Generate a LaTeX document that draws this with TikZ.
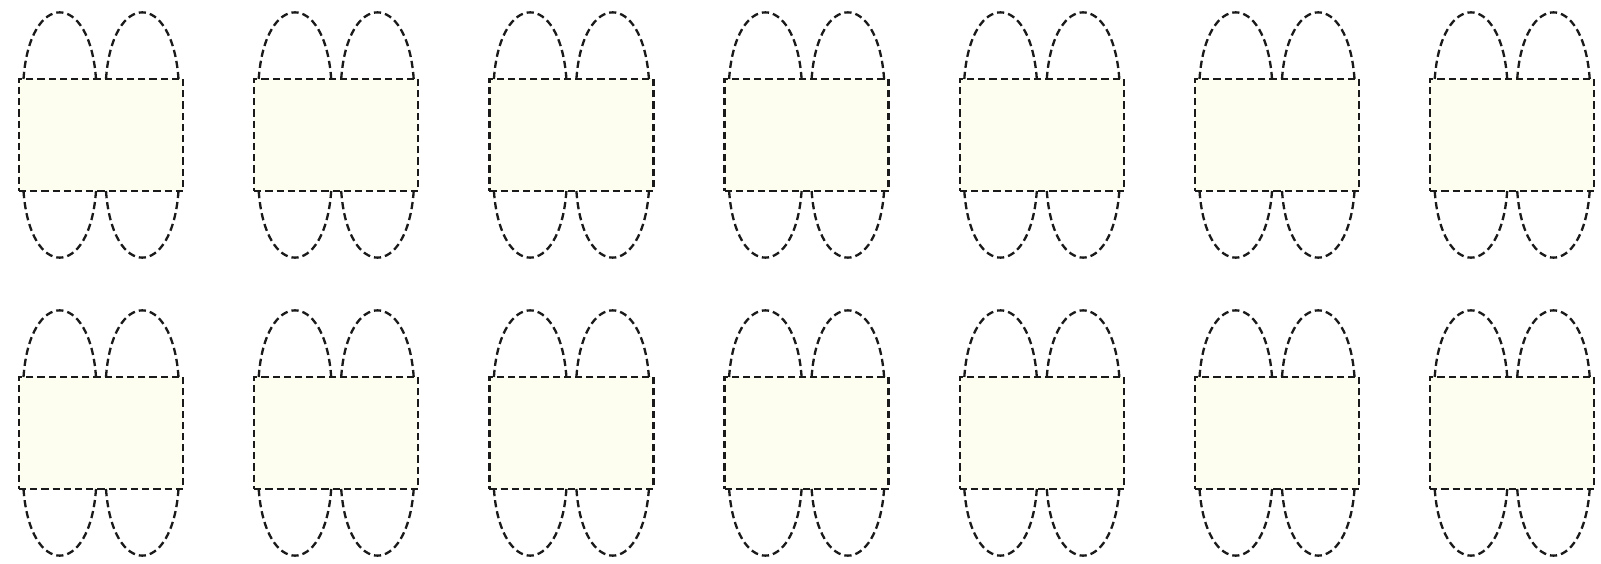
\documentclass[tikz,border=0pt]{standalone}
\usepackage{xcolor}
\usepackage{tikz}
\usetikzlibrary{positioning,calc}
\definecolor{slotcream}{HTML}{FEFEF0}
\definecolor{slotline}{HTML}{1A1A1A}

\begin{document}
\begin{tikzpicture}[x=0.25mm, y=0.25mm,
  slot/.style={rectangle, draw=slotline, fill=slotcream, minimum width=41mm,
    minimum height=28mm, outer sep=0pt, line width=0.58mm,
    dash pattern=on 1.8mm off 1mm},
  lobe/.style={draw=slotline, line width=0.58mm, dash pattern=on 1.8mm off 1mm,
    looseness=3.15}
]
\useasboundingbox (0,0) rectangle (1601,563);
\foreach \r/\y in {1/428, 2/130}{
  \foreach \c in {1,...,7}{
    \node[slot] (s\r\c) at ({101+235.2*(\c-1)}, \y) {};
    % two loops on top, two below
    \draw[lobe] ($(s\r\c.north)+(-77.5,0)$) to[out=86, in=94] ($(s\r\c.north)+(-5,0)$);
    \draw[lobe] ($(s\r\c.north)+(5,0)$) to[out=86, in=94] ($(s\r\c.north)+(77.5,0)$);
    \draw[lobe] ($(s\r\c.south)+(-77.5,0)$) to[out=-86, in=-94] ($(s\r\c.south)+(-5,0)$);
    \draw[lobe] ($(s\r\c.south)+(5,0)$) to[out=-86, in=-94] ($(s\r\c.south)+(77.5,0)$);
  }
}
\end{tikzpicture}
\end{document}
